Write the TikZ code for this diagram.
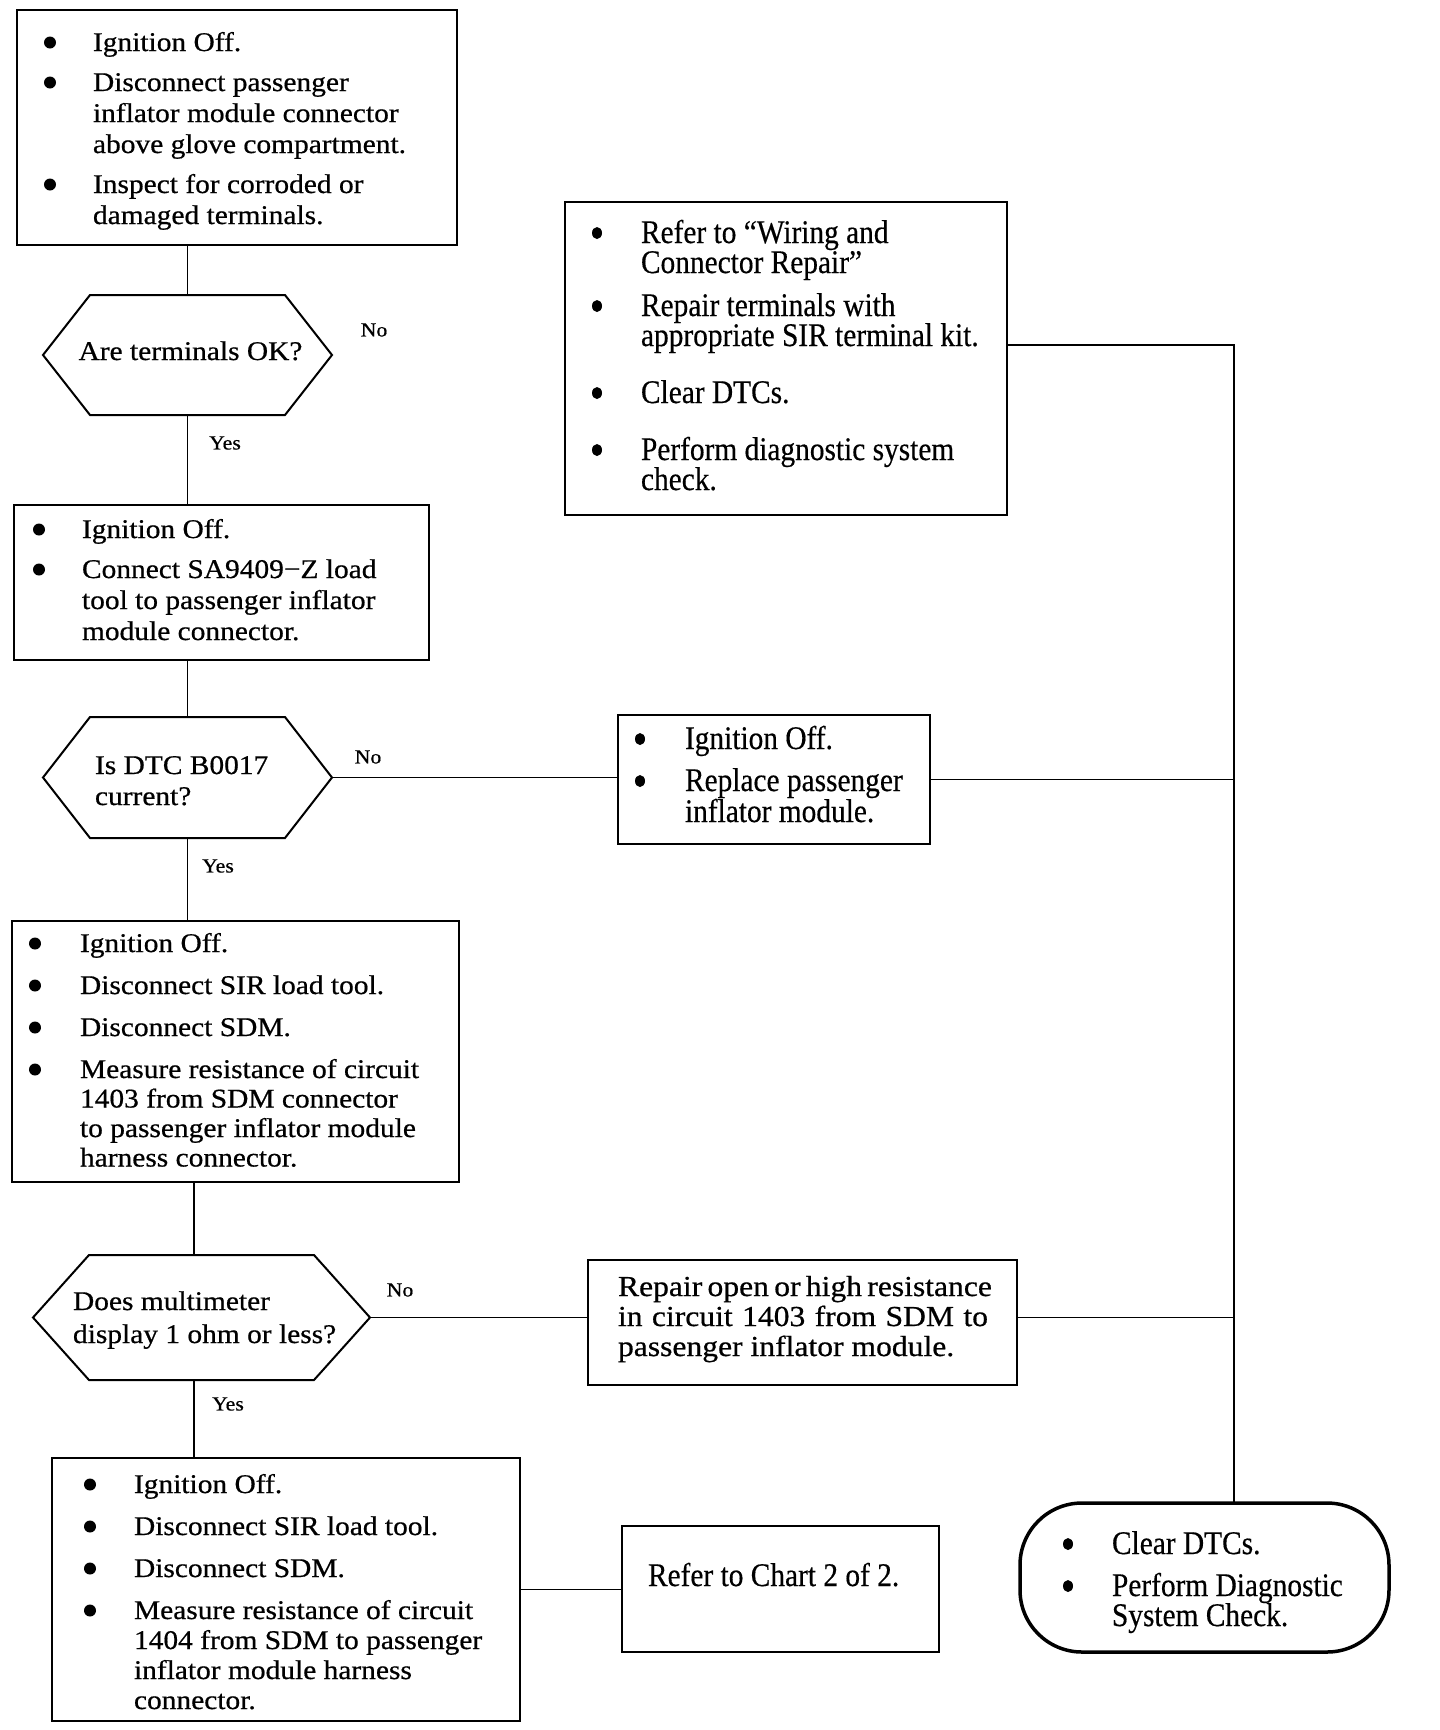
\documentclass[tikz,border=0pt]{standalone}
\usepackage{fontspec}
\setmainfont{Liberation Serif}
\newfontfamily\ffa[FakeStretch=1.09,FakeBold=0.6]{Liberation Serif}
\newfontfamily\ffb[FakeStretch=0.89,FakeBold=0.4]{Liberation Serif}
\newcommand\setfa[2]{\ffa\fontsize{#1}{#2}\selectfont}
\newcommand\setfb[2]{\ffb\fontsize{#1}{#2}\selectfont}
\newcommand\bla{\tikz[baseline=-8.5pt]\fill (0,0) circle[radius=6pt];}
\newcommand\blb{\tikz[baseline=-10pt]\fill (0,0) ellipse[x radius=5pt,y radius=6pt];}
\newcommand\bitem[3]{\par\hangindent=#1\hangafter=1\noindent\makebox[#1][l]{#2}#3\par}
\newcommand\bx[6]{\begin{minipage}[c][#2][t]{#1}\raggedright\let\\\newline\leftskip=#4\relax#5\lineskiplimit=-100pt\lineskip=0pt\vspace*{#3}#6\end{minipage}}
\begin{document}
\begin{tikzpicture}[x=1pt,y=-1pt,
  box/.style={draw,line width=2pt,inner sep=0pt,outer sep=0pt},
  hexn/.style={inner sep=0pt,outer sep=0pt},
  hex/.style={line width=2pt,line join=miter},
  conn/.style={line width=1.6pt},
  lbl/.style={inner sep=0pt,font={\setfa{20}{20}}}]
\path[fill=white,use as bounding box] (0,0) rectangle (1440,1730);

% left column
\node[box] (b1) at (237,127.5) {\bx{440pt}{235pt}{16pt}{27pt}{\setfa{27}{31}}{%
\bitem{49pt}{\bla}{\rule{0pt}{25pt}Ignition Off.}\vspace{9pt}%
\bitem{49pt}{\bla}{Disconnect passenger\\inflator module connector\\above glove compartment.}\vspace{9pt}%
\bitem{49pt}{\bla}{Inspect for corroded or\\damaged terminals.}}};

\node[hexn] (h1) at (187.5,355) {\bx{289pt}{120pt}{40pt}{0pt}{\setfa{27}{31}\centering}{\rule{0pt}{25pt}\hspace*{6pt}Are terminals OK?}};
\draw[hex] (h1.west) -- ([xshift=47pt]h1.north west) -- ([xshift=-47pt]h1.north east) -- (h1.east) -- ([xshift=-47pt]h1.south east) -- ([xshift=47pt]h1.south west) -- cycle;

\node[box] (b2) at (221.5,582.5) {\bx{415pt}{155pt}{8pt}{19pt}{\setfa{27}{31}}{%
\bitem{49pt}{\bla}{\rule{0pt}{25pt}Ignition Off.}\vspace{9pt}%
\bitem{49pt}{\bla}{Connect SA9409−Z load\\tool to passenger inflator\\module connector.}}};

\node[hexn] (h2) at (187.5,777.5) {\bx{289pt}{121pt}{32pt}{52pt}{\setfa{27}{31}}{\rule{0pt}{25pt}Is DTC B0017\\current?}};
\draw[hex] (h2.west) -- ([xshift=47pt]h2.north west) -- ([xshift=-47pt]h2.north east) -- (h2.east) -- ([xshift=-47pt]h2.south east) -- ([xshift=47pt]h2.south west) -- cycle;

\node[box] (b3) at (235.5,1051.5) {\bx{447pt}{261pt}{6pt}{17pt}{\setfa{27}{29.5}}{%
\bitem{51pt}{\bla}{\rule{0pt}{25pt}Ignition Off.}\vspace{12.5pt}%
\bitem{51pt}{\bla}{Disconnect SIR load tool.}\vspace{12.5pt}%
\bitem{51pt}{\bla}{Disconnect SDM.}\vspace{12.5pt}%
\bitem{51pt}{\bla}{Measure resistance of circuit\\1403 from SDM connector\\to passenger inflator module\\harness connector.}}};

\node[hexn] (h3) at (201.5,1317.5) {\bx{337pt}{125pt}{30pt}{40pt}{\setfa{27}{33}}{\rule{0pt}{25pt}Does multimeter\\display 1 ohm or less?}};
\draw[hex] (h3.west) -- ([xshift=56pt]h3.north west) -- ([xshift=-56pt]h3.north east) -- (h3.east) -- ([xshift=-56pt]h3.south east) -- ([xshift=56pt]h3.south west) -- cycle;

\node[box] (b4) at (286,1589.5) {\bx{468pt}{263pt}{10pt}{32pt}{\setfa{27}{30}}{%
\bitem{50pt}{\bla}{\rule{0pt}{25pt}Ignition Off.}\vspace{12pt}%
\bitem{50pt}{\bla}{Disconnect SIR load tool.}\vspace{12pt}%
\bitem{50pt}{\bla}{Disconnect SDM.}\vspace{12pt}%
\bitem{50pt}{\bla}{Measure resistance of circuit\\1404 from SDM to passenger\\inflator module harness\\connector.}}};

% right column
\node[box] (wr) at (786,358.5) {\bx{442pt}{313pt}{16pt}{27pt}{\setfb{33}{30}}{%
\bitem{49pt}{\blb}{\rule{0pt}{25pt}Refer to “Wiring and\\Connector Repair”}\vspace{13pt}%
\bitem{49pt}{\blb}{Repair terminals with\\appropriate SIR terminal kit.}\vspace{27pt}%
\bitem{49pt}{\blb}{Clear DTCs.}\vspace{27pt}%
\bitem{49pt}{\blb}{Perform diagnostic system\\check.}}};

\node[box] (rp) at (774,779.5) {\bx{312pt}{129pt}{9pt}{17pt}{\setfb{33}{31}}{%
\bitem{50pt}{\blb}{\rule{0pt}{25pt}Ignition Off.}\vspace{11pt}%
\bitem{50pt}{\blb}{Replace passenger\\inflator module.}}};

\node[box] (ro) at (802.5,1322.5) {\bx{429pt}{125pt}{11pt}{30pt}{\setfa{29}{30}}{\rule{0pt}{25pt}\makebox[370pt][s]{Repair open or high resistance}\\\makebox[370pt][s]{in circuit 1403 from SDM to}\\passenger inflator module.}};

\node[box] (ch) at (780.5,1589) {\bx{317pt}{126pt}{35pt}{26pt}{\setfb{33}{30}}{\rule{0pt}{25pt}Refer to Chart 2 of 2.}};

\node[box,line width=3.5pt,rounded corners=62pt] (tm) at (1204.5,1577.5) {\bx{369pt}{149pt}{26pt}{43pt}{\setfb{33}{30}}{%
\bitem{49pt}{\blb}{\rule{0pt}{25pt}Clear DTCs.}\vspace{12pt}%
\bitem{49pt}{\blb}{Perform Diagnostic\\System Check.}}};

% labels
\node[lbl] (no1) at (374,330) {No};
\node[lbl] (yes1) at (225,443) {Yes};
\node[lbl] (no2) at (368,757) {No};
\node[lbl] (yes2) at (218,866) {Yes};
\node[lbl] (no3) at (400,1290) {No};
\node[lbl] (yes3) at (228,1404) {Yes};

% connectors
\coordinate (r1) at (1234,345);
\coordinate (k3) at (194,0);
\draw[conn] (h1.north |- b1.south) -- (h1.north);
\draw[conn] (h1.south) -- (h1.south |- b2.north);
\draw[conn] (h2.north |- b2.south) -- (h2.north);
\draw[conn] (h2.south) -- (h2.south |- b3.north);
\draw[conn] (k3 |- b3.south) -- (k3 |- h3.north);
\draw[conn] (k3 |- h3.south) -- (k3 |- b4.north);
\draw[conn] (h2.east) -- (h2.east -| rp.west);
\draw[conn] (h3.east) -- (h3.east -| ro.west);
\draw[conn] (b4.east) -- (b4.east -| ch.west);
\draw[conn] (wr.east |- r1) -- (r1) -- (r1 |- tm.north);
\draw[conn] (rp.east) -- (rp.east -| r1);
\draw[conn] (ro.east |- h3.east) -- (h3.east -| r1);
\end{tikzpicture}
\end{document}
